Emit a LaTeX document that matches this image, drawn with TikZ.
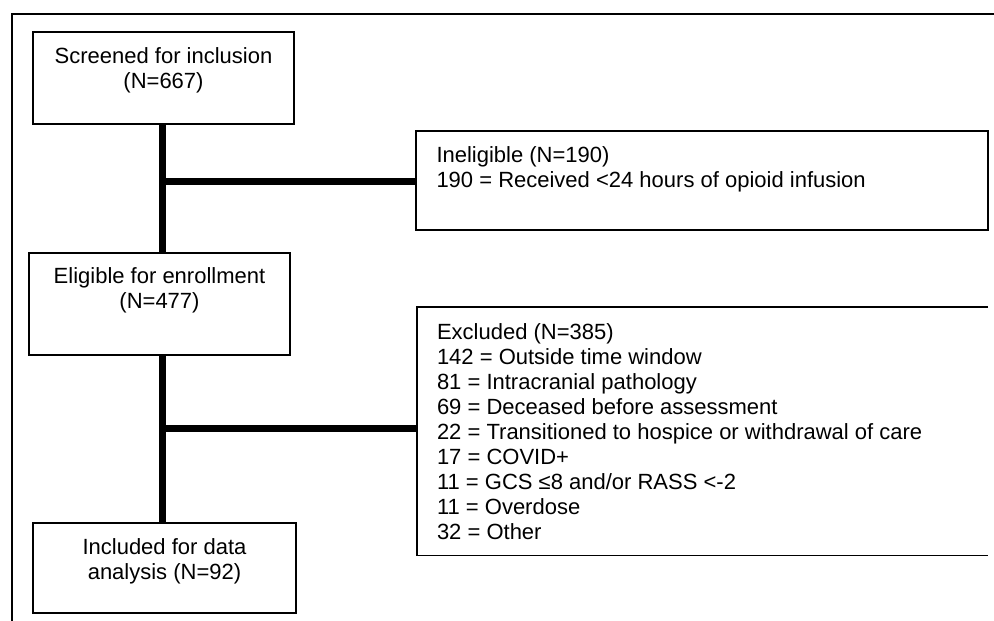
\documentclass[tikz,border=0pt]{standalone}
\usepackage{fontspec}
\setmainfont{Liberation Sans}
\usetikzlibrary{positioning}

\begin{document}
\begin{tikzpicture}[
    x=1pt, y=-1pt,
    box/.style={draw, line width=1.4pt, inner sep=0pt},
    txt/.style={inner sep=0pt, font=\fontsize{22}{25}\selectfont},
    flow/.style={line width=7pt},
    frameline/.style={line width=2pt}
  ]
  \useasboundingbox (0,0) rectangle (994,621);
  % outer frame, only top and left show
  \draw[frameline] (12,621) -- (12,14) -- (994,14);

  % left column
  \node[box, minimum width=261pt, minimum height=92pt] (screen) at (163.5,78) {};
  \node[txt, align=center, below=16pt of screen.north] (screentxt)
    {Screened for inclusion\\(N=667)};
  \node[box, minimum width=261pt, minimum height=102pt] (elig) at (159.5,304) {};
  \node[txt, align=center, below=15pt of elig.north] (eligtxt)
    {Eligible for enrollment\\(N=477)};
  \node[box, minimum width=263pt, minimum height=90pt] (incl) at (164.5,568) {};
  \node[txt, align=center, below=16pt of incl.north] (incltxt)
    {Included for data\\analysis (N=92)};

  % right column
  \node[box, minimum width=572pt, minimum height=99pt] (inelig) at (702,180.5) {};
  \node[txt, align=left, below right=16pt and 21pt of inelig.north west] (ineligtxt)
    {Ineligible (N=190)\\190 = Received <24 hours of opioid infusion};
  \node[inner sep=0pt, minimum width=571pt, minimum height=248pt] (excl) at (702.5,431) {};
  \draw[line width=1.4pt] (excl.north east) -- (excl.north west)
    -- (excl.south west) -- (excl.south east);
  \node[txt, align=left, below right=17pt and 20pt of excl.north west] (excltxt)
    {Excluded (N=385)\\
     142 = Outside time window\\
     81 = Intracranial pathology\\
     69 = Deceased before assessment\\
     22 = Transitioned to hospice or withdrawal of care\\
     17 = COVID+\\
     11 = GCS ≤8 and/or RASS <-2\\
     11 = Overdose\\
     32 = Other};

  % connectors
  \coordinate (j1) at (162.5,181);
  \coordinate (j2) at (162.5,428);
  \draw[flow] (screen.south -| j1) -- (elig.north -| j1);
  \draw[flow] (j1) -- (inelig.west |- j1);
  \draw[flow] (elig.south -| j2) -- (incl.north -| j2);
  \draw[flow] (j2) -- (excl.west |- j2);
\end{tikzpicture}
\end{document}
